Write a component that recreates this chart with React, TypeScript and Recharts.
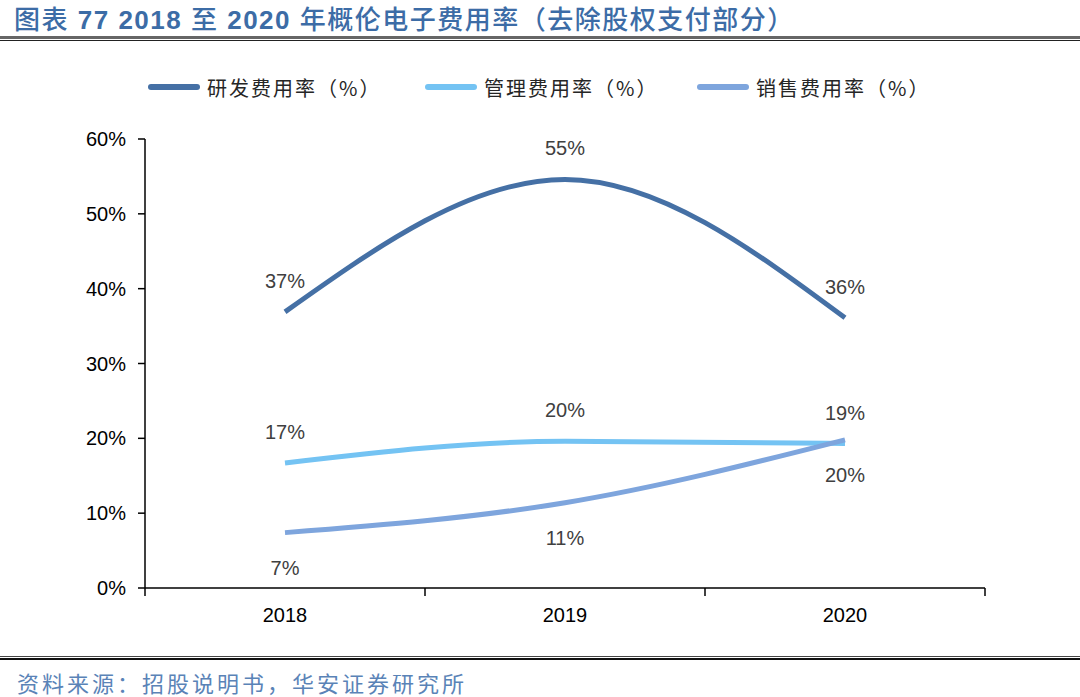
import React from "react";
import { LineChart, Line, XAxis, YAxis, Legend, LabelList } from "recharts";

const years = ["2018", "2019", "2020"];
const rdRate = [36.9, 54.6, 36.1];
const mgmtRate = [16.7, 19.6, 19.3];
const salesRate = [7.4, 11.4, 19.8];
const rdLabels = ["37%", "55%", "36%"];
const mgmtLabels = ["17%", "20%", "19%"];
const salesLabels = ["7%", "11%", "20%"];
const yTicks = [0, 10, 20, 30, 40, 50, 60];
const seriesNames = ["研发费用率（%）", "管理费用率（%）", "销售费用率（%）"];
const colors = ["#4570A5", "#74C3F3", "#7EA5DD"];

const data = years.map((y, i) => ({
  idx: i,
  year: y,
  rd: rdRate[i],
  mgmt: mgmtRate[i],
  sales: salesRate[i],
  rdL: rdLabels[i],
  mgmtL: mgmtLabels[i],
  salesL: salesLabels[i],
}));

const makeLabel = (dy: number) => (props: any) => {
  const { x, y, value } = props;
  return (
    <text
      x={x}
      y={y + dy}
      textAnchor="middle"
      dominantBaseline="central"
      fill="#404040"
      fontSize={20}
      fontFamily="'Liberation Sans', Arial, sans-serif"
    >
      {value}
    </text>
  );
};

const LegendContent = () => {
  const lefts = [148, 425, 697];
  return (
    <div style={{ position: "relative", width: 1080, height: 30 }}>
      {seriesNames.map((n, i) => (
        <div
          key={n}
          style={{
            position: "absolute",
            left: lefts[i],
            top: 0,
            display: "flex",
            alignItems: "center",
            height: 30,
          }}
        >
          <div
            style={{
              width: 52,
              height: 6,
              borderRadius: 3,
              background: colors[i],
              marginRight: 7,
            }}
          />
          <span
            style={{
              fontFamily: "'Noto Sans CJK SC', sans-serif",
              fontSize: 20,
              color: "#262626",
              letterSpacing: 2,
            }}
          >
            {n}
          </span>
        </div>
      ))}
    </div>
  );
};

const cjk = { fontFamily: "'Noto Sans CJK SC', sans-serif", fontWeight: 500 } as const;
const num = { fontFamily: "'Liberation Sans', Arial, sans-serif", fontWeight: 700 } as const;

export default function App() {
  return (
    <div
      style={{
        position: "absolute",
        left: 0,
        top: 0,
        width: 1080,
        height: 697,
        background: "#fff",
        overflow: "hidden",
      }}
    >
      <div
        style={{
          position: "absolute",
          left: 14,
          top: -1,
          fontSize: 26,
          color: "#3C6CA6",
          whiteSpace: "nowrap",
          letterSpacing: 1.5,
        }}
      >
        <span style={cjk}>图表</span>
        <span style={num}> 77 2018 </span>
        <span style={cjk}>至</span>
        <span style={num}> 2020 </span>
        <span style={cjk}>年概伦电子费用率（去除股权支付部分）</span>
      </div>
      <div style={{ position: "absolute", left: 0, top: 36, width: 1080, height: 3, background: "#666" }} />
      <div style={{ position: "absolute", left: 0, top: 40, width: 1080, height: 1, background: "#222" }} />

      <div style={{ position: "absolute", left: 0, top: 0 }}>
        <LineChart
          width={1080}
          height={697}
          data={data}
          margin={{ top: 109, right: 95, bottom: 79, left: 85 }}
        >
          <XAxis
            xAxisId="b"
            dataKey="idx"
            type="number"
            domain={[-0.5, 2.5]}
            ticks={[0, 1, 2]}
            tickFormatter={(v: number) => years[v]}
            axisLine={false}
            tickLine={false}
            tick={{ fill: "#000", fontSize: 20, fontFamily: "'Liberation Sans', Arial, sans-serif" }}
            tickMargin={13}
            height={29}
            allowDataOverflow
          />
          <XAxis
            xAxisId="a"
            dataKey="idx"
            type="number"
            domain={[-0.5, 2.5]}
            ticks={[-0.5, 0.5, 1.5, 2.5]}
            tickFormatter={() => ""}
            tickLine={{ stroke: "#000", strokeWidth: 1.5 }}
            tickSize={8}
            height={1}
            stroke="#000"
            strokeWidth={1.5}
            interval={0}
            allowDataOverflow
          />
          <YAxis
            domain={[0, 60]}
            ticks={yTicks}
            tickFormatter={(v: number) => `${v}%`}
            width={60}
            tickSize={7}
            tickMargin={12}
            stroke="#000"
            strokeWidth={1.5}
            tick={{ fill: "#000", fontSize: 20, fontFamily: "'Liberation Sans', Arial, sans-serif" }}
            interval={0}
          />
          <Legend
            verticalAlign="top"
            content={<LegendContent />}
            wrapperStyle={{ position: "absolute", top: 72, left: 0, width: 1080 }}
          />
          <Line
            xAxisId="b"
            type="monotone"
            dataKey="rd"
            name={seriesNames[0]}
            stroke={colors[0]}
            strokeWidth={5}
            dot={false}
            isAnimationActive={false}
          >
            <LabelList dataKey="rdL" content={makeLabel(-31)} />
          </Line>
          <Line
            xAxisId="b"
            type="monotone"
            dataKey="mgmt"
            name={seriesNames[1]}
            stroke={colors[1]}
            strokeWidth={5}
            dot={false}
            isAnimationActive={false}
          >
            <LabelList dataKey="mgmtL" content={makeLabel(-31)} />
          </Line>
          <Line
            xAxisId="b"
            type="monotone"
            dataKey="sales"
            name={seriesNames[2]}
            stroke={colors[2]}
            strokeWidth={5}
            dot={false}
            isAnimationActive={false}
          >
            <LabelList dataKey="salesL" content={makeLabel(35)} />
          </Line>
        </LineChart>
      </div>

      <div style={{ position: "absolute", left: 0, top: 656, width: 1080, height: 1, background: "#444" }} />
      <div style={{ position: "absolute", left: 0, top: 658, width: 1080, height: 2, background: "#111" }} />
      <div
        style={{
          position: "absolute",
          left: 17,
          top: 666,
          fontFamily: "'Noto Sans CJK SC', sans-serif",
          fontSize: 22,
          color: "#5A83B7",
          whiteSpace: "nowrap",
          letterSpacing: 3,
        }}
      >
        资料来源：招股说明书，华安证券研究所
      </div>
    </div>
  );
}
